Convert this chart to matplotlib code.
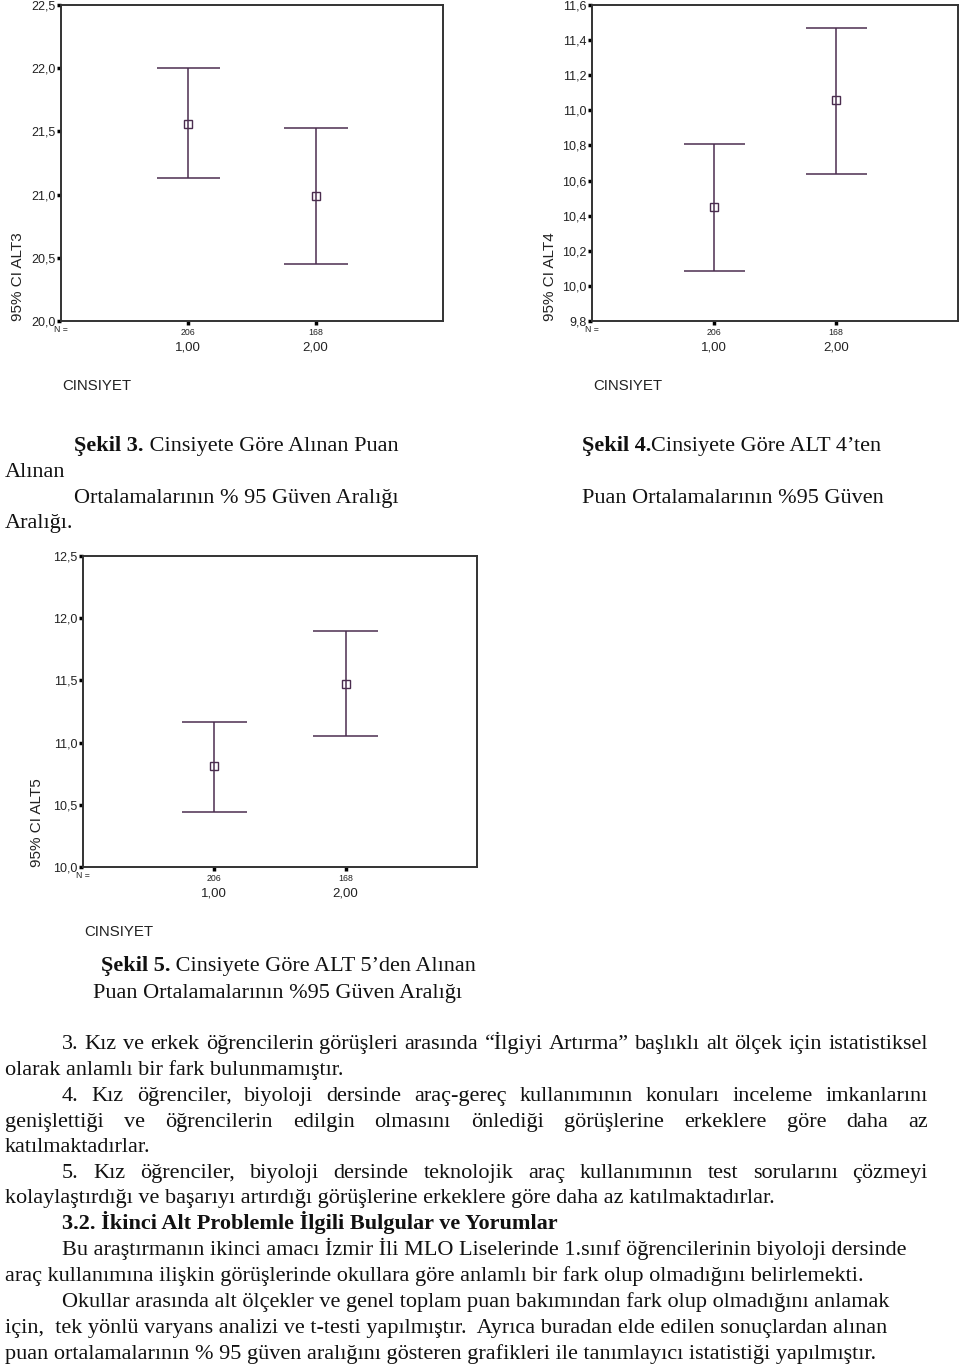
import matplotlib
matplotlib.use("Agg")
import matplotlib.pyplot as plt
from matplotlib.transforms import Affine2D
import numpy as np

W, H = 960, 1368

# --- data ---
groups = [1, 2]
group_labels = ["1,00", "2,00"]
n_labels = ["206", "168"]

alt3_mean = [21.56, 20.99]
alt3_low = [21.13, 20.45]
alt3_high = [22.00, 21.53]
alt3_ticks = [20.0, 20.5, 21.0, 21.5, 22.0, 22.5]
alt3_ticklabels = ["20,0", "20,5", "21,0", "21,5", "22,0", "22,5"]

alt4_mean = [10.45, 11.06]
alt4_low = [10.085, 10.64]
alt4_high = [10.81, 11.47]
alt4_ticks = [9.8, 10.0, 10.2, 10.4, 10.6, 10.8, 11.0, 11.2, 11.4, 11.6]
alt4_ticklabels = ["9,8", "10,0", "10,2", "10,4", "10,6", "10,8", "11,0", "11,2", "11,4", "11,6"]

alt5_mean = [10.81, 11.47]
alt5_low = [10.445, 11.05]
alt5_high = [11.165, 11.90]
alt5_ticks = [10.0, 10.5, 11.0, 11.5, 12.0, 12.5]
alt5_ticklabels = ["10,0", "10,5", "11,0", "11,5", "12,0", "12,5"]

LINE = "#4b2d4f"
SANS = "Liberation Sans"
SERIF = "Liberation Serif"
FS = 16

fig = plt.figure(figsize=(W / 100, H / 100), dpi=100)
fig.patch.set_facecolor("white")
renderer = fig.canvas.get_renderer()


def px(x, y):
    return x / W, 1 - y / H


def box(left, top, right, bottom):
    return [left / W, 1 - bottom / H, (right - left) / W, (bottom - top) / H]


def ci_chart(rect, mean, low, high, ticks, ticklabels, ylabel, ylab_off):
    ax = fig.add_axes(rect)
    x = np.array(groups)
    ax.vlines(x, low, high, color=LINE, lw=1.1)
    ax.hlines(low, x - 0.25, x + 0.25, color=LINE, lw=1.1)
    ax.hlines(high, x - 0.25, x + 0.25, color=LINE, lw=1.1)
    ax.plot(x, mean, "s", mfc="none", mec=LINE, ms=5.5, mew=1.0)
    ax.set_xlim(0, 3)
    ax.set_ylim(ticks[0], ticks[-1])
    ax.set_yticks(ticks, ticklabels, fontsize=9, family=SANS, color="#222222")
    ax.set_xticks(x, n_labels, fontsize=6.3, family=SANS, color="#222222")
    ax.tick_params(axis="y", direction="out", length=3, width=2.5, pad=1)
    ax.tick_params(axis="x", direction="out", length=3, width=2.5, pad=2)
    for s in ax.spines.values():
        s.set_linewidth(1.4)
        s.set_color("#333333")
    ax.text(0, 0, "N =", transform=ax.transAxes + Affine2D().translate(0, -9),
            fontsize=6.3, family=SANS, ha="center", va="center", color="#222222")
    for xi, lab in zip(x, group_labels):
        ax.text(xi, 0, lab, transform=ax.get_xaxis_transform() + Affine2D().translate(0, -27),
                fontsize=9.5, family=SANS, ha="center", va="center", color="#222222")
    ax.text(0, 0, "CINSIYET", transform=ax.transAxes + Affine2D().translate(1, -65),
            fontsize=10.8, family=SANS, ha="left", va="center", color="#222222")
    ax.text(0, 0, ylabel, transform=ax.transAxes + Affine2D().translate(-ylab_off, 0),
            fontsize=11, family=SANS, rotation=90, ha="center", va="bottom", color="#222222")
    return ax


ci_chart(box(61, 5, 443, 321), alt3_mean, alt3_low, alt3_high, alt3_ticks, alt3_ticklabels, "95% CI ALT3", 43)
ci_chart(box(592, 5, 958, 321), alt4_mean, alt4_low, alt4_high, alt4_ticks, alt4_ticklabels, "95% CI ALT4", 42)
ci_chart(box(83, 556, 477, 867), alt5_mean, alt5_low, alt5_high, alt5_ticks, alt5_ticklabels, "95% CI ALT5", 46)


def width_of(s, weight="normal"):
    t = fig.text(0, 0, s, fontsize=FS, family=SERIF, weight=weight)
    w = t.get_window_extent(renderer).width
    t.remove()
    return w


def line(x, y, s, weight="normal"):
    # y is the visual middle of the line; text sits on a common baseline
    fig.text(*px(x, y + 6), s, fontsize=FS, family=SERIF, weight=weight,
             ha="left", va="baseline", color="#111111")


def runs(x, y, parts):
    for s, wt in parts:
        line(x, y, s, wt)
        x += width_of(s, wt)


def justified(x0, x1, y, s):
    words = s.split(" ")
    widths = [width_of(w) for w in words]
    gap = (x1 - x0 - sum(widths)) / (len(words) - 1)
    xx = x0
    for w, wd in zip(words, widths):
        line(xx, y, w)
        xx += wd + gap


# --- captions ---
runs(74, 445, [("Şekil 3.", "bold"), (" Cinsiyete Göre Alınan Puan", "normal")])
line(5, 471, "Alınan")
line(74, 497, "Ortalamalarının % 95 Güven Aralığı")
line(5, 522, "Aralığı.")
runs(582, 445, [("Şekil 4.", "bold"), ("Cinsiyete Göre ALT 4’ten", "normal")])
line(582, 497, "Puan Ortalamalarının %95 Güven")
runs(101, 965, [("Şekil 5.", "bold"), (" Cinsiyete Göre ALT 5’den Alınan", "normal")])
line(93, 992, "Puan Ortalamalarının %95 Güven Aralığı")

# --- body text ---
justified(62, 928, 1043, "3. Kız ve erkek öğrencilerin görüşleri arasında “İlgiyi Artırma” başlıklı alt ölçek için istatistiksel")
line(5, 1069, "olarak anlamlı bir fark bulunmamıştır.")
justified(62, 928, 1095, "4. Kız öğrenciler, biyoloji dersinde araç-gereç kullanımının konuları inceleme imkanlarını")
justified(5, 928, 1121, "genişlettiği ve öğrencilerin edilgin olmasını önlediği görüşlerine erkeklere göre daha az")
line(5, 1146, "katılmaktadırlar.")
justified(62, 928, 1172, "5. Kız öğrenciler, biyoloji dersinde teknolojik araç kullanımının test sorularını çözmeyi")
line(5, 1197, "kolaylaştırdığı ve başarıyı artırdığı görüşlerine erkeklere göre daha az katılmaktadırlar.")
line(62, 1223, "3.2. İkinci Alt Problemle İlgili Bulgular ve Yorumlar", weight="bold")
line(62, 1249, "Bu araştırmanın ikinci amacı İzmir İli MLO Liselerinde 1.sınıf öğrencilerinin biyoloji dersinde")
line(5, 1275, "araç kullanımına ilişkin görüşlerinde okullara göre anlamlı bir fark olup olmadığını belirlemekti.")
line(62, 1301, "Okullar arasında alt ölçekler ve genel toplam puan bakımından fark olup olmadığını anlamak")
line(5, 1327, "için,  tek yönlü varyans analizi ve t-testi yapılmıştır.  Ayrıca buradan elde edilen sonuçlardan alınan")
line(5, 1353, "puan ortalamalarının % 95 güven aralığını gösteren grafikleri ile tanımlayıcı istatistiği yapılmıştır.")

fig.savefig("out.png", dpi=100)
